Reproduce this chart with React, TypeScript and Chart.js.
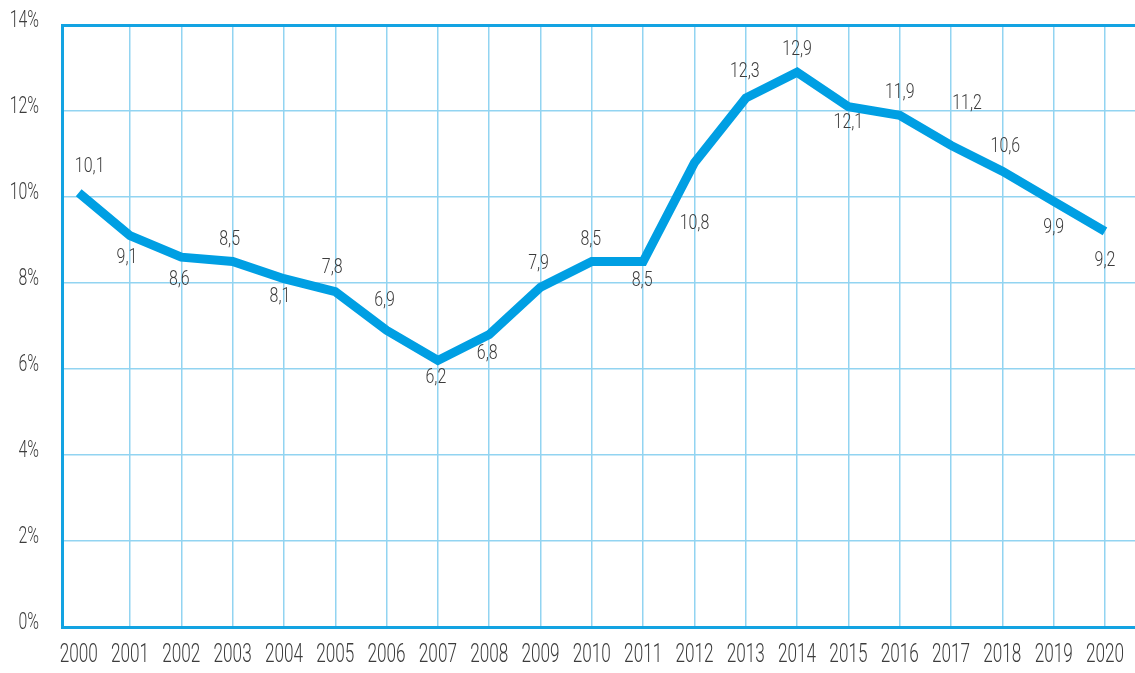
import React, { useEffect, useRef } from 'react';
import { Chart, registerables } from 'chart.js';

Chart.register(...registerables);

const years = [2000, 2001, 2002, 2003, 2004, 2005, 2006, 2007, 2008, 2009, 2010, 2011, 2012, 2013, 2014, 2015, 2016, 2017, 2018, 2019, 2020];
const rates = [10.1, 9.1, 8.6, 8.5, 8.1, 7.8, 6.9, 6.2, 6.8, 7.9, 8.5, 8.5, 10.8, 12.3, 12.9, 12.1, 11.9, 11.2, 10.6, 9.9, 9.2];
const yTicks = [0, 2, 4, 6, 8, 10, 12, 14];

// label placement relative to each point (pixels)
const labelDx = [11, -3, -2, -3, -4, -3, -2, -2, -2, -2, -1, -1, 0, -1, 0, 0, 0, 16, 3, 0, 0];
const labelDy = [-26, 22, 23, -22, 18, -24, -30, 17, 19, -24, -22, 19, 61, -26, -23, 16, -23, -42, -24, 26, 29];

const FONT = "Roboto, 'Open Sans', 'Liberation Sans', sans-serif";
const TEXT = '#3c3c3c';
const LINE = '#009fe3';
const AXIS = '#13a3e2';
const GRID = '#92d4f1';
const CONDENSE = 0.66;
const LABEL_CONDENSE = 0.76;

const origFillText = CanvasRenderingContext2D.prototype.fillText;

function condensedFill(ctx: any, text: string, x: number, y: number, sx: number, maxWidth?: number) {
  ctx.save();
  ctx.translate(x, y);
  ctx.scale(sx, 1);
  if (maxWidth === undefined) origFillText.call(ctx, text, 0, 0);
  else origFillText.call(ctx, text, 0, 0, maxWidth / sx);
  ctx.restore();
}

// draws the axis text horizontally condensed (the original uses a condensed face)
const condensedText = {
  id: 'condensedText',
  beforeInit(chart: any) {
    const ctx = chart.ctx;
    ctx.fillText = function (text: string, x: number, y: number, maxWidth?: number) {
      condensedFill(this, text, x, y, CONDENSE, maxWidth);
    };
  },
};

const valueLabels = {
  id: 'valueLabels',
  afterDatasetsDraw(chart: any) {
    const ctx = chart.ctx;
    const meta = chart.getDatasetMeta(0);
    ctx.save();
    ctx.font = `300 21px ${FONT}`;
    ctx.fillStyle = TEXT;
    ctx.textAlign = 'center';
    ctx.textBaseline = 'middle';
    meta.data.forEach((pt: any, i: number) => {
      condensedFill(ctx, rates[i].toFixed(1).replace('.', ','), pt.x + labelDx[i], pt.y + labelDy[i], LABEL_CONDENSE);
    });
    ctx.restore();
  },
};

export default function App() {
  const ref = useRef<HTMLCanvasElement | null>(null);

  useEffect(() => {
    if (!ref.current) return;
    const chart = new Chart(ref.current, {
      type: 'line',
      data: {
        datasets: [
          {
            data: years.map((y, i) => ({ x: y, y: rates[i] })),
            borderColor: LINE,
            borderWidth: 9,
            pointRadius: 0,
            pointHoverRadius: 0,
            tension: 0,
            borderJoinStyle: 'miter',
            borderCapStyle: 'butt',
            fill: false,
          },
        ],
      },
      options: {
        animation: false,
        responsive: false,
        devicePixelRatio: 1,
        layout: { padding: { top: 25, right: 0, left: 0, bottom: 0 } },
        plugins: {
          legend: { display: false },
          tooltip: { enabled: false },
          title: { display: false },
        },
        scales: {
          x: {
            type: 'linear',
            min: 1999.675,
            max: 2020.585,
            afterBuildTicks: (s: any) => {
              s.ticks = years.map((v) => ({ value: v }));
            },
            afterFit: (s: any) => {
              s.height = 46;
              s.paddingLeft = 0;
              s.paddingRight = 0;
            },
            ticks: {
              autoSkip: false,
              maxRotation: 0,
              callback: (v: any) => String(v),
              font: { family: FONT, size: 26, weight: '300' },
              color: TEXT,
              padding: 13,
            },
            grid: {
              color: (c: any) => (c.tick && c.tick.value === 2000 ? 'rgba(0,0,0,0)' : GRID),
              lineWidth: 1.5,
              drawTicks: false,
            },
            border: { color: AXIS, width: 3 },
          },
          y: {
            min: 0,
            max: 14,
            afterBuildTicks: (s: any) => {
              s.ticks = yTicks.map((v) => ({ value: v }));
            },
            afterFit: (s: any) => {
              s.width = 62;
              s.paddingTop = 0;
              s.paddingBottom = 0;
            },
            ticks: {
              callback: (v: any) => [v + '%', ''],
              font: { family: FONT, size: 24, weight: '300', lineHeight: 0.3 },
              color: TEXT,
              padding: 23,
            },
            grid: {
              color: (c: any) => (c.tick && c.tick.value === 14 ? AXIS : GRID),
              lineWidth: (c: any) => (c.tick && c.tick.value === 14 ? 3 : 1.5),
              drawTicks: false,
            },
            border: { color: AXIS, width: 3 },
          },
        },
      },
      plugins: [condensedText, valueLabels],
    });
    return () => chart.destroy();
  }, []);

  return (
    <div style={{ position: 'fixed', left: 0, top: 0, width: 1135, height: 673, background: '#fff' }}>
      <canvas ref={ref} width={1135} height={673} style={{ display: 'block', width: 1135, height: 673 }} />
    </div>
  );
}
